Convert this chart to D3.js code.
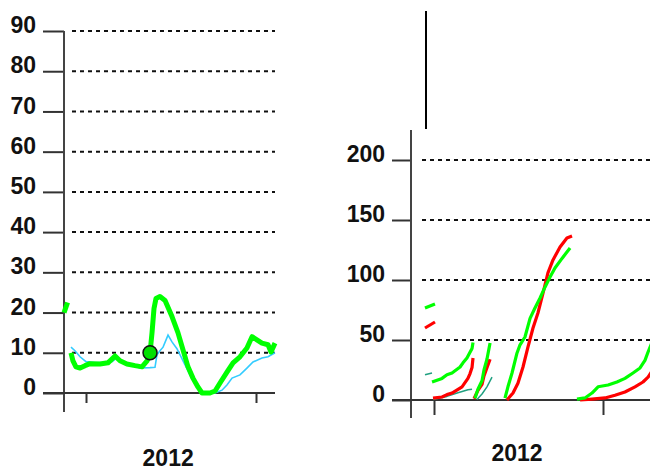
<!DOCTYPE html>
<html>
<head>
<meta charset="utf-8">
<script src="https://cdn.jsdelivr.net/npm/d3@7"></script>
<style>
  body { margin: 0; background: #fff; }
  svg { display: block; font-family: "Liberation Sans", Arial, sans-serif; }
  .lbl { font-weight: bold; font-size: 23px; fill: #111; }
</style>
</head>
<body>
<svg id="chart" width="650" height="470"></svg>
<script>
// x values are months counted from Jan 2012
const yearLabel = "2012"
const yearTicks = [0, 12]

// left panel
const leftTicks = [0, 10, 20, 30, 40, 50, 60, 70, 80, 90]
const leftGreenStub = [[-1.55, 20], [-1.3, 22.5]]
const leftGreen = [
  [-1.06, 10], [-0.92, 8], [-0.71, 6.5], [-0.42, 6.2], [-0.07, 6.8], [0.28, 7.3], [0.99, 7.2],
  [1.55, 7.5], [2.05, 9.2], [2.4, 8], [2.89, 7.2], [3.46, 6.8], [3.95, 6.5], [4.31, 8],
  [4.52, 10], [4.66, 15], [4.8, 21], [4.94, 23.5], [5.22, 24], [5.58, 23], [6.07, 19],
  [6.49, 15], [6.85, 10.7], [7.2, 6.5], [7.55, 3.7], [7.9, 1.5], [8.19, 0], [8.75, 0],
  [9.11, 0.5], [9.46, 2.5], [9.95, 5.2], [10.38, 7.5], [10.87, 9], [11.36, 11.2], [11.72, 14],
  [12.42, 12.4], [12.85, 12], [13.06, 10.2], [13.34, 12.4]
]
const leftCyan = [
  [-1.06, 11.4], [-0.78, 10.5], [-0.42, 9], [0, 7.8], [0.64, 7.6], [1.34, 7.6], [1.84, 7.8],
  [2.19, 8.8], [2.54, 7.8], [3.11, 7.2], [3.81, 6.2], [4.52, 6.3], [4.87, 6.4], [5.01, 9.5],
  [5.22, 10.5], [5.44, 11.4], [5.79, 14.4], [6.07, 12.7], [6.42, 11], [6.78, 8.5], [7.13, 6],
  [7.48, 3.5], [7.84, 1.5], [8.19, 0.3], [9.11, 0], [9.6, 0.7], [9.95, 2], [10.31, 3.7],
  [10.87, 4.5], [11.36, 6.2], [11.79, 7.7], [12.42, 8.7], [12.85, 9], [13.34, 10]
]
const leftMarker = [4.52, 10]

// right panel
const rightTicks = [0, 50, 100, 150, 200]
const rightGreen = [
  [[-0.64, 76.7], [0.07, 80]],
  [[-0.14, 15], [0.57, 18], [0.92, 21], [1.28, 22.5], [1.85, 27.5], [2.06, 31], [2.34, 35], [2.7, 43], [2.77, 48]],
  [[2.91, 1.5], [3.12, 9], [3.41, 16], [3.55, 25], [3.76, 34], [3.98, 47.5]],
  [[5.04, 1.5], [5.25, 11], [5.54, 22.5], [5.89, 39], [6.11, 46], [6.46, 52.5], [6.82, 68], [7.17, 76.7],
   [7.53, 85], [7.88, 94], [8.24, 102.5], [8.59, 110], [9.09, 118], [9.66, 126.7]],
  [[10.15, 0.8], [10.72, 1.7], [11.22, 5.8], [11.65, 11], [12.36, 12.5], [12.99, 15], [13.56, 18],
   [14.13, 22.5], [14.63, 26.7], [14.98, 33], [15.2, 40], [15.48, 48]]
]
const rightRed = [
  [[-0.64, 60], [0.07, 65]],
  [[-0.07, 1.5], [0.57, 2.5], [0.92, 4.5], [1.28, 5.8], [1.99, 11], [2.41, 18], [2.56, 22], [2.7, 27], [2.77, 35]],
  [[2.84, 1], [3.12, 8], [3.41, 13], [3.55, 20], [3.76, 27], [3.98, 34]],
  [[5.18, 0], [5.61, 5.8], [5.96, 14], [6.32, 27.5], [6.67, 44], [7.03, 60], [7.38, 72.5], [7.74, 89],
   [8.09, 106], [8.45, 116.7], [8.95, 127.5], [9.44, 135], [9.8, 136.7]],
  [[10.37, 0], [11.22, 0.8], [12.14, 1.7], [12.85, 4], [13.56, 6.7], [14.27, 11], [14.84, 15], [15.2, 19], [15.48, 24]]
]
const rightTeal = [
  [[-0.64, 21], [-0.14, 22.5]],
  [[-0.07, 0.5], [0.92, 3], [1.7, 6], [2.41, 8.5], [2.7, 9]],
  [[3.05, 0.5], [3.41, 5], [3.76, 11], [4.12, 19]]
]

const svg = d3.select("#chart")

function panel({ x, y, ticks, axisX, axisTop, axisBottom, xStart, xEnd, gridStart, tickDown, labelX, labelY }) {
  const g = svg.append("g")

  // dashed grid
  g.selectAll("line.grid").data(ticks.filter(d => d > 0)).join("line")
    .attr("x1", gridStart).attr("x2", xEnd)
    .attr("y1", d => y(d)).attr("y2", d => y(d))
    .attr("stroke", "#111").attr("stroke-width", 2).attr("stroke-dasharray", "4,4")

  // y axis with ticks on the left
  const ya = g.append("g").attr("transform", `translate(${axisX},0)`)
    .call(d3.axisLeft(y).tickValues(ticks).tickSize(axisX - xStart).tickPadding(7))
  ya.select(".domain").remove()
  ya.selectAll(".tick line").attr("stroke", "#333").attr("stroke-width", 2)
  ya.selectAll(".tick text").attr("class", "lbl").attr("dy", "0.07em")

  g.append("line").attr("x1", axisX).attr("x2", axisX).attr("y1", axisTop).attr("y2", axisBottom)
    .attr("stroke", "#444").attr("stroke-width", 2)
  g.append("line").attr("x1", xStart).attr("x2", xEnd).attr("y1", y(0)).attr("y2", y(0))
    .attr("stroke", "#333").attr("stroke-width", 2)

  const xa = g.append("g").attr("transform", `translate(0,${y(0)})`)
    .call(d3.axisBottom(x).tickValues(yearTicks).tickSize(tickDown).tickFormat(""))
  xa.select(".domain").remove()
  xa.selectAll(".tick line").attr("stroke", "#333").attr("stroke-width", 2)

  g.append("text").attr("class", "lbl").attr("text-anchor", "middle")
    .attr("x", labelX).attr("y", labelY).text(yearLabel)
  return g
}

// ---- left panel
const xL = d3.scaleLinear().domain([0, 12]).range([86, 256])
const yL = d3.scaleLinear().domain([0, 90]).range([393, 31])
const gL = panel({ x: xL, y: yL, ticks: leftTicks, axisX: 64, axisTop: yL(90), axisBottom: 412,
  xStart: 43, xEnd: 275, gridStart: 72, tickDown: 10, labelX: xL(5.8), labelY: 466 })

const lineL = d3.line().x(d => xL(d[0])).y(d => yL(d[1]))
gL.append("path").attr("d", lineL(leftCyan)).attr("fill", "none")
  .attr("stroke", "#33ccff").attr("stroke-width", 1.6)
gL.selectAll("path.green").data([leftGreenStub, leftGreen]).join("path")
  .attr("class", "green").attr("d", lineL).attr("fill", "none")
  .attr("stroke", "#00ff00").attr("stroke-width", 5).attr("stroke-linejoin", "round")
gL.append("circle").attr("cx", xL(leftMarker[0])).attr("cy", yL(leftMarker[1])).attr("r", 7)
  .attr("fill", "#00e000").attr("stroke", "#111").attr("stroke-width", 1.5)

// ---- right panel
const xR = d3.scaleLinear().domain([0, 12]).range([434, 603])
const yR = d3.scaleLinear().domain([0, 200]).range([400, 160])
const gR = panel({ x: xR, y: yR, ticks: rightTicks, axisX: 411, axisTop: 130, axisBottom: 418,
  xStart: 392, xEnd: 650, gridStart: 422, tickDown: 15, labelX: xR(5.9), labelY: 461 })

svg.append("clipPath").attr("id", "clipR").append("rect")
  .attr("x", 412).attr("y", 0).attr("width", 238).attr("height", 470)
const lineR = d3.line().x(d => xR(d[0])).y(d => yR(d[1]))
const series = gR.append("g").attr("clip-path", "url(#clipR)")
  .attr("fill", "none").attr("stroke-linejoin", "round")
series.selectAll("path.teal").data(rightTeal).join("path").attr("class", "teal")
  .attr("d", lineR).attr("stroke", "#20a080").attr("stroke-width", 1.5)
series.selectAll("path.red").data(rightRed).join("path").attr("class", "red")
  .attr("d", lineR).attr("stroke", "#ff0000").attr("stroke-width", 3.2)
series.selectAll("path.green").data(rightGreen).join("path").attr("class", "green")
  .attr("d", lineR).attr("stroke", "#00ff00").attr("stroke-width", 3.2)

// stray vertical rule above the right panel
svg.append("line").attr("x1", 426).attr("x2", 426).attr("y1", 11).attr("y2", 129)
  .attr("stroke", "#000").attr("stroke-width", 2)
</script>
</body>
</html>
